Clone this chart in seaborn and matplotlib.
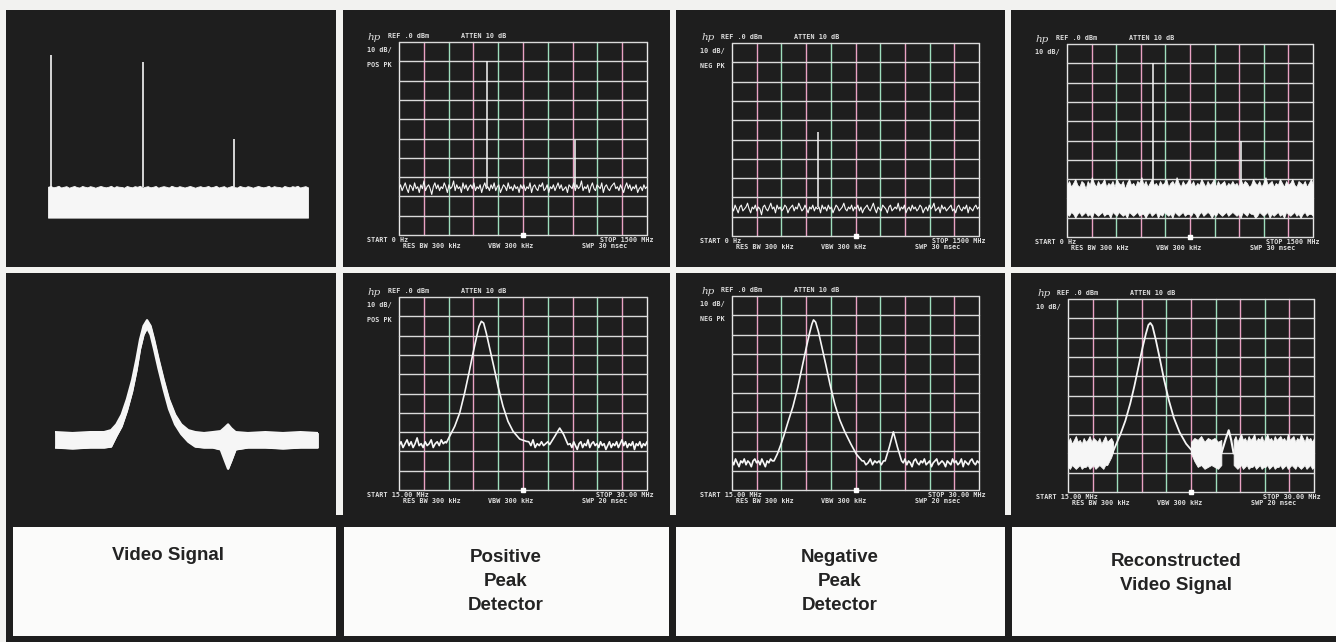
import numpy as np
import pandas as pd
import matplotlib
matplotlib.use("Agg")
import matplotlib.pyplot as plt
from matplotlib.patches import Rectangle
import seaborn as sns

sns.set_theme(style="dark")
plt.rcParams["font.family"] = ["DejaVu Sans"]

W, H = 1336, 642
DARK = "#1e1e1e"
PAPER = "#f2f2f0"
TRACE = "#f6f6f6"
HLINE = "#dadada"
VPINK = "#eaa2c4"
VGREEN = "#9edfbd"
TXT = "#dedede"

# ------------------------------------------------------------------ data
titles = [["Video Signal"], ["Positive", "Peak", "Detector"],
          ["Negative", "Peak", "Detector"], ["Reconstructed", "Video Signal"]]
detectors = ["POS PK", "NEG PK", ""]
span_r1 = (0.0, 1500.0)      # MHz
span_r2 = (15.0, 30.0)       # MHz
start_r1, stop_r1, swp_r1 = "START 0 Hz", "STOP 1500 MHz", "SWP 30 msec"
start_r2, stop_r2, swp_r2 = "START 15.00 MHz", "STOP 30.00 MHz", "SWP 20 msec"
ref_text, atten_text, scale_text = "REF .0 dBm", "ATTEN 10 dB", "10 dB/"
rbw_text, vbw_text = "RES BW 300 kHz", "VBW 300 kHz"

# --- row 1 (0-1500 MHz) ---
video1_spike_f = [20, 548, 1073]
video1_spike_top = [-6.7, -10.4, -50.3]
video1_top = [-75, -74.6, -75.3, -75, -74.5, -75.4, -75, -74.7, -75.5, -75, -74.6, -75.2, -75.4, -74.6, -75,
              -75.3, -74.7, -75, -75.5, -75, -74.6, -75, -75.3, -75, -74.5, -75.4, -74.7, -75, -75.1, -75.5,
              -74.6, -75, -75.3, -74.7, -75, -74.5, -75.4, -75, -74.7, -75.3, -75, -74.6, -75.5, -75, -74.7,
              -75, -75.4, -74.5, -75, -75.3, -74.7, -75, -75.4, -75, -74.6, -75, -75.5, -75, -74.7, -75.2,
              -75, -74.6, -75.3, -75, -74.5, -75.4, -75, -74.7, -75.5, -75, -74.6, -75.2, -75.4, -74.6, -75,
              -75.3, -74.7, -75, -75.5, -75, -74.6, -75, -75.3, -75, -74.5, -75.4, -74.7, -75, -75.1, -75.5,
              -74.6, -75, -75.3, -74.7, -75, -74.5, -75.4, -75, -74.7, -75.3]
video1_floor = -91.0

pos1_spike_f = [532, 1065]
pos1_spike_top = [-10, -51]
pos1_noise = [-76, -74, -77, -75, -73, -76, -78, -74, -75, -77, -73, -76, -75, -78, -74, -76, -72, -77, -75, -74,
              -76, -79, -75, -73, -76, -74, -77, -75, -76, -73, -75, -78, -74, -76, -75, -72, -77, -74, -76, -75,
              -78, -73, -76, -74, -77, -75, -74, -76, -73, -77, -75, -76, -74, -78, -75, -73, -76, -75, -77, -74,
              -76, -73, -77, -75, -74, -78, -76, -74, -75, -77, -73, -76, -75, -77, -74, -76, -75, -78, -74, -76,
              -74, -77, -75, -76, -73, -78, -75, -74, -76, -77, -74, -75, -73, -77, -76, -74, -78, -75, -76, -74,
              -77, -75, -73, -76, -74, -77, -76, -75, -78, -74, -75, -76, -73, -77, -74, -76, -75, -72, -77, -75,
              -76, -74, -78, -75, -73, -76, -77, -74, -75, -76, -73, -78, -75, -74, -76, -77, -75, -74, -73, -76,
              -75, -77, -74, -76, -78, -75, -73, -76, -74, -77, -75, -76, -74, -78, -76, -75, -77, -74, -76, -75]

neg1_spike_f = [525]
neg1_spike_top = [-46]
neg1_noise = [-85, -87, -84, -86, -88, -85, -84, -87, -86, -85, -83, -86, -88, -85, -86, -84, -87, -85, -86, -89,
              -85, -84, -86, -87, -85, -83, -86, -85, -88, -84, -86, -85, -87, -86, -84, -85, -88, -86, -85, -84,
              -87, -85, -86, -83, -85, -87, -86, -84, -86, -88, -85, -86, -84, -87, -85, -86, -85, -88, -84, -86,
              -85, -87, -84, -86, -85, -88, -86, -84, -85, -87, -86, -85, -83, -86, -87, -85, -86, -84, -87, -85,
              -86, -84, -87, -85, -88, -86, -85, -84, -86, -87, -85, -83, -86, -88, -85, -86, -87, -84, -85, -86,
              -88, -85, -84, -87, -86, -85, -86, -83, -87, -85, -86, -84, -88, -86, -85, -87, -84, -86, -85, -87,
              -86, -84, -85, -88, -86, -85, -87, -84, -86, -85, -83, -87, -86, -85, -88, -84, -86, -85, -87, -86,
              -85, -84, -87, -86, -88, -85, -84, -86, -87, -85, -86, -84, -88, -85, -86, -87, -85, -84, -86, -85]

rec1_spike_f = [524, 1061]
rec1_spike_top = [-10, -50]
rec1_upper = [-73, -71, -74, -72, -70, -73, -74, -71, -72, -75, -71, -73, -69, -72, -74, -71, -73, -72, -70, -74,
              -72, -73, -71, -74, -70, -72, -73, -71, -75, -72, -70, -73, -72, -74, -71, -72, -69, -73, -71, -74,
              -72, -70, -73, -72, -74, -71, -73, -72, -70, -74, -72, -71, -73, -69, -72, -74, -71, -73, -72, -70,
              -73, -71, -74, -72, -73, -70, -72, -74, -71, -73, -72, -70, -74, -71, -73, -72, -71, -74, -72, -73,
              -71, -73, -72, -74, -70, -73, -71, -72, -74, -73, -70, -72, -73, -71, -74, -72, -69, -73, -72, -71,
              -74, -72, -73, -70, -72, -74, -71, -73, -72, -70, -73, -74, -71, -72, -73, -71, -74, -72, -70, -73]
rec1_lower = [-88, -89, -87, -88, -90, -88, -87, -89, -88, -87, -89, -88, -90, -87, -88, -89, -88, -87, -89, -88,
              -88, -90, -87, -88, -89, -87, -88, -89, -88, -90, -87, -88, -89, -88, -87, -89, -88, -88, -90, -88,
              -87, -89, -88, -87, -90, -88, -89, -87, -88, -89, -88, -90, -87, -88, -89, -88, -87, -89, -88, -88,
              -89, -87, -88, -90, -88, -87, -89, -88, -87, -88, -90, -88, -89, -87, -88, -89, -88, -87, -89, -88,
              -87, -88, -89, -88, -90, -87, -88, -89, -87, -88, -88, -90, -89, -87, -88, -89, -88, -87, -90, -88,
              -89, -88, -87, -89, -88, -90, -87, -88, -89, -88, -87, -89, -88, -90, -88, -87, -89, -88, -88, -89]

# --- row 2 (15-30 MHz) ---
video2_f = [15.0, 16.0, 17.0, 17.8, 18.2, 18.5, 18.8, 19.1, 19.4, 19.65, 19.85, 20.05, 20.25, 20.45,
            20.65, 20.9, 21.2, 21.5, 21.85, 22.2, 22.6, 23.0, 23.5, 24.0, 24.45, 24.7, 24.87, 25.05,
            25.3, 26.0, 27.0, 28.0, 29.0, 30.0]
video2_upper = [-70, -70.5, -70, -70, -69, -66, -61, -53, -43, -32, -22, -15, -12, -15,
                -22, -32, -43, -53, -61, -66, -69, -70, -70.5, -70, -69.5, -67.5, -66, -68,
                -70, -70.5, -70, -70.5, -70, -70.5]
video2_lower = [-78, -78.5, -78, -78, -77.5, -72, -67, -59, -49, -38, -27, -19.5, -16, -19.5,
                -27, -37, -48, -58, -66, -71, -75, -77.5, -78, -78, -79, -85, -89, -85,
                -79, -78, -78, -78.5, -78, -78]

pos2_left = [-77, -75, -78, -76, -74, -77, -75, -78, -76, -73, -77, -76, -78, -75, -77, -76, -74, -78,
             -76, -75, -77, -74, -76, -75]
pos2_peak_f = [17.86, 18.06, 18.37, 18.67, 18.97, 19.23, 19.48, 19.68, 19.84, 19.98, 20.12, 20.28,
               20.48, 20.73, 20.99, 21.29, 21.59, 21.90, 22.30, 22.70]
pos2_peak_db = [-75.6, -72.2, -67.0, -60.1, -49.7, -39.4, -29.0, -21.2, -15.2, -12.6, -13.5, -18.7,
                -26.4, -35.9, -46.3, -56.6, -64.4, -69.6, -73.6, -74.8]
pos2_mid = [-75, -77, -74, -78, -76, -77, -75, -77, -76, -75]
pos2_small_f = [24.11, 24.42, 24.72, 24.96, 25.22]
pos2_small_db = [-76.5, -72.2, -67.9, -71.3, -76.5]
pos2_right = [-76, -78, -75, -77, -79, -76, -75, -78, -76, -77, -74, -78, -76, -75, -77, -76, -78, -75,
              -77, -76, -79, -77, -75, -78, -76, -77, -75, -78, -76, -74, -77, -75, -78, -76, -77, -75,
              -79, -76, -77, -75, -78, -76, -77, -75]

neg2_left = [-85, -87, -84, -86, -88, -85, -86, -84, -87, -85, -86, -88, -85, -84, -86, -85, -87, -84,
             -86, -88, -85, -86, -84, -85]
neg2_peak_f = [17.55, 17.75, 17.95, 18.15, 18.4, 18.7, 19.0, 19.25, 19.5, 19.7, 19.85, 19.95, 20.08,
               20.25, 20.45, 20.7, 20.95, 21.25, 21.55, 21.85, 22.2, 22.55, 22.9]
neg2_peak_db = [-85, -81.5, -77, -72, -65, -57, -47, -37, -27, -19.5, -14.5, -12.3, -13.5,
                -18.5, -26, -35.5, -45.5, -56, -64, -70, -76, -81.5, -85]
neg2_mid = [-85, -87, -86, -84, -87, -85, -86, -85, -87, -85]
neg2_small_f = [24.3, 24.55, 24.8, 25.05, 25.3]
neg2_small_db = [-85, -78, -70, -78, -85]
neg2_right = [-86, -84, -87, -85, -86, -88, -85, -84, -86, -87, -85, -86, -84, -87, -86, -85, -88, -86,
              -85, -84, -87, -86, -85, -86, -88, -85, -86, -87, -84, -86, -85, -87, -86, -84, -88, -85,
              -86, -87, -85, -84, -86, -87, -85, -86]

rec2_left_up = [-74, -72, -75, -73, -71, -74, -73, -75, -72, -74, -73, -71, -74, -72, -73, -74, -72, -75,
                -73, -71, -74, -73, -72, -74]
rec2_left_lo = [-87, -88, -86, -87, -88, -87, -86, -88, -87, -87, -86, -88, -87, -86, -88, -87, -86, -87,
                -88, -86, -86, -84, -82, -79]
rec2_mid_up = [-74, -72, -73, -71, -74, -72, -73, -72, -74, -73]
rec2_mid_lo = [-80, -84, -87, -86, -88, -87, -86, -87, -88, -86]
rec2_right_up = [-73, -71, -74, -72, -70, -73, -72, -74, -71, -73, -72, -70, -74, -72, -73, -71, -74, -72,
                 -70, -73, -72, -74, -71, -73, -72, -71, -73, -72, -74, -70, -73, -72, -71, -74, -72, -73,
                 -70, -72, -74, -71, -73, -72, -74, -72]
rec2_right_lo = [-86, -87, -88, -87, -86, -88, -87, -86, -88, -87, -87, -86, -88, -87, -86, -88, -87, -87,
                 -86, -88, -87, -86, -88, -87, -87, -86, -88, -87, -86, -88, -87, -86, -87, -88, -86, -87,
                 -88, -87, -86, -88, -87, -86, -88, -87]
rec2_peak_f = [17.7, 17.95, 18.2, 18.5, 18.8, 19.05, 19.3, 19.55, 19.75, 19.9, 20.02, 20.15, 20.35,
               20.6, 20.85, 21.15, 21.45, 21.8, 22.2, 22.6]
rec2_peak_db = [-80, -75, -70, -63, -54, -45, -35, -25, -18, -13.5, -12.4, -14, -21,
                -31, -41.5, -52.5, -61.5, -69, -75, -79]
rec2_small_f = [24.35, 24.6, 24.8, 24.95, 25.1]
rec2_small_db = [-80, -73, -68, -73, -80]

# ------------------------------------------------------------------ layout
fig = plt.figure(figsize=(W / 100, H / 100), dpi=100)
fig.patch.set_facecolor(PAPER)


def block(l, t, r, b, color):
    fig.add_artist(Rectangle((l / W, 1 - b / H), (r - l) / W, (b - t) / H,
                             transform=fig.transFigure, facecolor=color,
                             edgecolor="none", zorder=0))


def axes_at(l, t, r, b):
    ax = fig.add_axes([l / W, 1 - b / H, (r - l) / W, (b - t) / H])
    ax.set_facecolor("none")
    ax.set_axis_off()
    return ax


def ptext(x, y, s, **kw):
    kw.setdefault("va", "center")
    fig.text(x / W, 1 - y / H, s, **kw)


cols_x = [(6, 336), (343, 670), (676, 1005), (1011, 1336)]
for (l, r) in cols_x:
    block(l, 10, r, 267, DARK)
    block(l, 273, r, 520, DARK)
block(6, 515, 1336, 642, DARK)

box_x = [(13, 336), (344, 669), (676, 1005), (1012, 1336)]
for (l, r) in box_x:
    block(l, 527, r, 636, "#fbfbfa")

label_cx = [168, 506, 840, 1176]
label_y = [[556], [557, 581, 605], [557, 581, 605], [561, 585]]
for cx, lines, ys in zip(label_cx, titles, label_y):
    for s, y in zip(lines, ys):
        ptext(cx, y, s, ha="center", fontsize=13.5, fontweight="bold",
              color="#232323", family=["Liberation Sans Narrow", "Liberation Sans", "DejaVu Sans"])


def trace(ax, x, y, lw=1.0):
    df = pd.DataFrame({"f": np.asarray(x, float), "db": np.asarray(y, float)})
    sns.lineplot(data=df, x="f", y="db", ax=ax, color=TRACE, lw=lw,
                 estimator=None, sort=False, legend=False)
    ax.set_axis_off()


def band(ax, x, up, lo):
    ax.fill_between(x, up, lo, color=TRACE, lw=0.6, edgecolor=TRACE)


def spikes(ax, f, top, base, lw=1.0):
    ax.vlines(f, base, top, color=TRACE, lw=lw)


def grid(ax, span):
    xs = np.linspace(span[0], span[1], 11)
    for i, x in enumerate(xs):
        c = "#e8e8e8" if i in (0, 10) else (VPINK if i % 2 else VGREEN)
        ax.axvline(x, color=c, lw=1.0, clip_on=False, zorder=1)
    for y in np.linspace(-100, 0, 11):
        ax.axhline(y, color=HLINE, lw=1.0, clip_on=False, zorder=1)
    ax.plot([(span[0] + span[1]) / 2], [-100], marker="s", ms=2.5, color="white",
            clip_on=False, zorder=3)


mono = dict(family="DejaVu Sans Mono", fontweight="bold", fontsize=4.9, color=TXT)


def analyzer_text(l, t, r, b, det, start, stop, swp):
    ptext(l - 31, t - 5, "hp", family="DejaVu Serif", style="italic", fontsize=7.5, color=TXT)
    ptext(l - 11, t - 6, ref_text, **mono)
    ptext(l + 62, t - 6, atten_text, **mono)
    ptext(l - 32, t + 8, scale_text, **mono)
    if det:
        ptext(l - 32, t + 23, det, **mono)
    ptext(l - 32, b + 5, start, **mono)
    ptext(r + 7, b + 5, stop, ha="right", **mono)
    ptext(l + 4, b + 11, rbw_text, **mono)
    ptext(l + 89, b + 11, vbw_text, **mono)
    ptext(l + 183, b + 11, swp, **mono)


boxes_r1 = [(399, 42, 647, 235), (732, 43, 979, 236), (1067, 44, 1313, 237)]
boxes_r2 = [(399, 297, 647, 490), (732, 296, 979, 490), (1068, 299, 1314, 492)]

# ---- row 1, col 1: video signal
ax = axes_at(48, 42, 308, 235)
ax.set_xlim(*span_r1); ax.set_ylim(-100, 0)
xv = np.linspace(span_r1[0], span_r1[1], len(video1_top))
band(ax, xv, video1_top, video1_floor)
spikes(ax, video1_spike_f, video1_spike_top, -75, lw=1.2)

# ---- row 1 analyzers
row1 = [
    ("line", pos1_noise, None, pos1_spike_f, pos1_spike_top, -75),
    ("line", neg1_noise, None, neg1_spike_f, neg1_spike_top, -85),
    ("band", rec1_upper, rec1_lower, rec1_spike_f, rec1_spike_top, -73),
]
for k, (kind, a, b_, sf, st, base) in enumerate(row1):
    l, t, r, b = boxes_r1[k]
    ax = axes_at(l, t, r, b)
    ax.set_xlim(*span_r1); ax.set_ylim(-100, 0)
    grid(ax, span_r1)
    xs = np.linspace(span_r1[0], span_r1[1], len(a))
    if kind == "line":
        trace(ax, xs, a, lw=0.8)
    else:
        band(ax, xs, a, b_)
    spikes(ax, sf, st, base, lw=1.1)
    ax.set_xlim(*span_r1); ax.set_ylim(-100, 0)
    analyzer_text(l, t, r, b, detectors[k], start_r1, stop_r1, swp_r1)

# ---- row 2, col 1: video signal
ax = axes_at(55, 297, 318, 490)
ax.set_xlim(*span_r2); ax.set_ylim(-100, 0)
band(ax, video2_f, video2_upper, video2_lower)
trace(ax, video2_f, video2_upper, lw=1.6)
trace(ax, video2_f, video2_lower, lw=1.6)
ax.set_xlim(*span_r2); ax.set_ylim(-100, 0)


def seg_x(lo, hi, vals):
    return np.linspace(lo, hi, len(vals))


# positive peak
l, t, r, b = boxes_r2[0]
ax = axes_at(l, t, r, b)
ax.set_xlim(*span_r2); ax.set_ylim(-100, 0)
grid(ax, span_r2)
fx = np.concatenate([seg_x(15.0, 17.8, pos2_left), pos2_peak_f, seg_x(22.85, 24.0, pos2_mid),
                     pos2_small_f, seg_x(25.35, 30.0, pos2_right)])
fy = np.concatenate([pos2_left, pos2_peak_db, pos2_mid, pos2_small_db, pos2_right])
trace(ax, fx, fy, lw=1.2)
ax.set_xlim(*span_r2); ax.set_ylim(-100, 0)
analyzer_text(l, t, r, b, detectors[0], start_r2, stop_r2, swp_r2)

# negative peak
l, t, r, b = boxes_r2[1]
ax = axes_at(l, t, r, b)
ax.set_xlim(*span_r2); ax.set_ylim(-100, 0)
grid(ax, span_r2)
fx = np.concatenate([seg_x(15.0, 17.45, neg2_left), neg2_peak_f, seg_x(23.0, 24.2, neg2_mid),
                     neg2_small_f, seg_x(25.4, 30.0, neg2_right)])
fy = np.concatenate([neg2_left, neg2_peak_db, neg2_mid, neg2_small_db, neg2_right])
trace(ax, fx, fy, lw=1.2)
ax.set_xlim(*span_r2); ax.set_ylim(-100, 0)
analyzer_text(l, t, r, b, detectors[1], start_r2, stop_r2, swp_r2)

# reconstructed
l, t, r, b = boxes_r2[2]
ax = axes_at(l, t, r, b)
ax.set_xlim(*span_r2); ax.set_ylim(-100, 0)
grid(ax, span_r2)
band(ax, seg_x(15.0, 17.75, rec2_left_up), rec2_left_up, rec2_left_lo)
band(ax, seg_x(22.5, 24.35, rec2_mid_up), rec2_mid_up, rec2_mid_lo)
band(ax, seg_x(25.1, 30.0, rec2_right_up), rec2_right_up, rec2_right_lo)
trace(ax, rec2_peak_f, rec2_peak_db, lw=1.3)
trace(ax, rec2_small_f, rec2_small_db, lw=1.5)
ax.set_xlim(*span_r2); ax.set_ylim(-100, 0)
analyzer_text(l, t, r, b, detectors[2], start_r2, stop_r2, swp_r2)

fig.savefig("out.png", dpi=100, facecolor=PAPER)
